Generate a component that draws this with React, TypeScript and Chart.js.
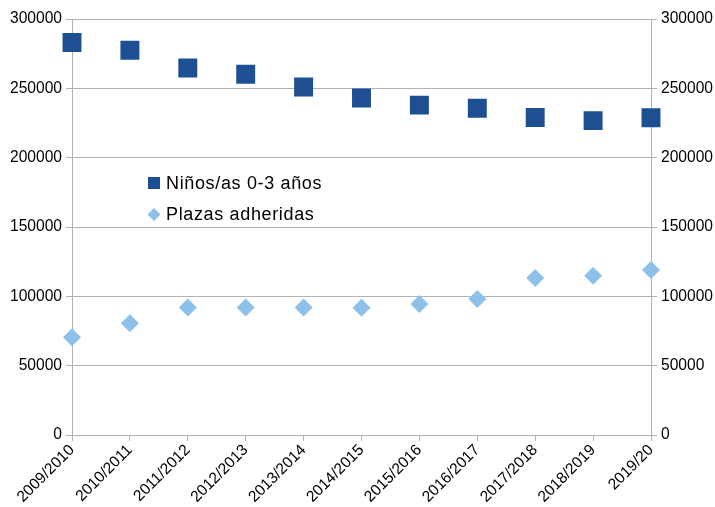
import React, { useEffect, useRef } from "react";
import { Chart, registerables } from "chart.js";

Chart.register(...registerables);

const categories = [
  "2009/2010", "2010/2011", "2011/2012", "2012/2013", "2013/2014", "2014/2015",
  "2015/2016", "2016/2017", "2017/2018", "2018/2019", "2019/20",
];
const ninos = [283000, 277500, 264700, 260100, 251000, 243000, 237900, 235600, 229000, 226700, 228800];
const plazas = [70500, 80500, 92000, 92000, 92000, 91800, 94500, 98000, 113200, 114900, 119000];
const seriesNames = ["Niños/as 0-3 años", "Plazas adheridas"];
const yMin = 0;
const yMax = 300000;
const yStep = 50000;

const darkBlue = "#1e4f93";
const lightBlue = "#8ec1ea";
const gridColor = "#b3b3b3";
const font = "'Liberation Sans', Arial, sans-serif";

const legendPlugin = {
  id: "insideLegend",
  afterDraw(chart: any) {
    const ctx = chart.ctx;
    const area = chart.chartArea;
    const x0 = area.left + 82;
    const rows = [
      { y: area.top + 164, color: darkBlue, style: "rect" },
      { y: area.top + 195.5, color: lightBlue, style: "diamond" },
    ];
    ctx.save();
    ctx.font = `18px ${font}`;
    try {
      (ctx as any).letterSpacing = "0.65px";
    } catch (e) {}
    ctx.textBaseline = "middle";
    ctx.textAlign = "left";
    rows.forEach((r, i) => {
      ctx.fillStyle = r.color;
      if (r.style === "rect") {
        ctx.fillRect(x0 - 6, r.y - 6, 12, 12);
      } else {
        ctx.beginPath();
        ctx.moveTo(x0, r.y - 6.5);
        ctx.lineTo(x0 + 6.5, r.y);
        ctx.lineTo(x0, r.y + 6.5);
        ctx.lineTo(x0 - 6.5, r.y);
        ctx.closePath();
        ctx.fill();
      }
      ctx.fillStyle = "#000";
      ctx.fillText(seriesNames[i], x0 + 12, r.y + 1);
    });
    ctx.restore();
  },
};

export default function App() {
  const ref = useRef<HTMLCanvasElement | null>(null);
  useEffect(() => {
    if (!ref.current) return;
    const chart = new Chart(ref.current, {
      type: "line",
      data: {
        labels: categories,
        datasets: [
          {
            label: seriesNames[0],
            data: ninos,
            showLine: false,
            pointStyle: "rect",
            pointRadius: 13.4,
            pointHoverRadius: 13.4,
            backgroundColor: darkBlue,
            borderColor: darkBlue,
            borderWidth: 0,
            yAxisID: "y",
          },
          {
            label: seriesNames[1],
            data: plazas,
            showLine: false,
            pointStyle: "rectRot",
            pointRadius: 9,
            pointHoverRadius: 9,
            backgroundColor: lightBlue,
            borderColor: lightBlue,
            borderWidth: 0,
            yAxisID: "y",
          },
        ],
      },
      options: {
        animation: false,
        responsive: false,
        maintainAspectRatio: false,
        layout: { padding: { top: 19, left: 0, right: 0, bottom: 0 } },
        plugins: {
          legend: { display: false },
          tooltip: { enabled: false },
        },
        scales: {
          x: {
            type: "category",
            offset: false,
            grid: {
              drawOnChartArea: false,
              drawTicks: true,
              tickLength: 6,
              color: gridColor,
            },
            border: { display: true, color: gridColor, width: 1 },
            ticks: {
              minRotation: 45,
              maxRotation: 45,
              autoSkip: false,
              padding: 0,
              color: "#000",
              font: { family: font, size: 15.6 },
            },
            afterFit(scale: any) {
              scale.height = 72;
            },
          },
          y: {
            position: "left",
            min: yMin,
            max: yMax,
            grid: { color: gridColor, tickLength: 6, drawTicks: true },
            border: { display: true, color: gridColor, width: 1 },
            ticks: {
              stepSize: yStep,
              padding: 4,
              color: "#000",
              font: { family: font, size: 15.6 },
              callback: (v: any) => String(v),
            },
            afterFit(scale: any) {
              scale.width = 72;
            },
          },
          y2: {
            position: "right",
            min: yMin,
            max: yMax,
            grid: { drawOnChartArea: false, color: gridColor, tickLength: 6, drawTicks: true },
            border: { display: true, color: gridColor, width: 1 },
            ticks: {
              stepSize: yStep,
              padding: 4,
              color: "#000",
              font: { family: font, size: 15.6 },
              callback: (v: any) => String(v),
            },
            afterFit(scale: any) {
              scale.width = 64;
            },
          },
        },
      },
      plugins: [legendPlugin],
    });
    return () => chart.destroy();
  }, []);
  return (
    <div style={{ position: "fixed", left: 0, top: 0, width: 715, height: 507, background: "#fff" }}>
      <canvas ref={ref} width={715} height={507} style={{ width: 715, height: 507 }} />
    </div>
  );
}
